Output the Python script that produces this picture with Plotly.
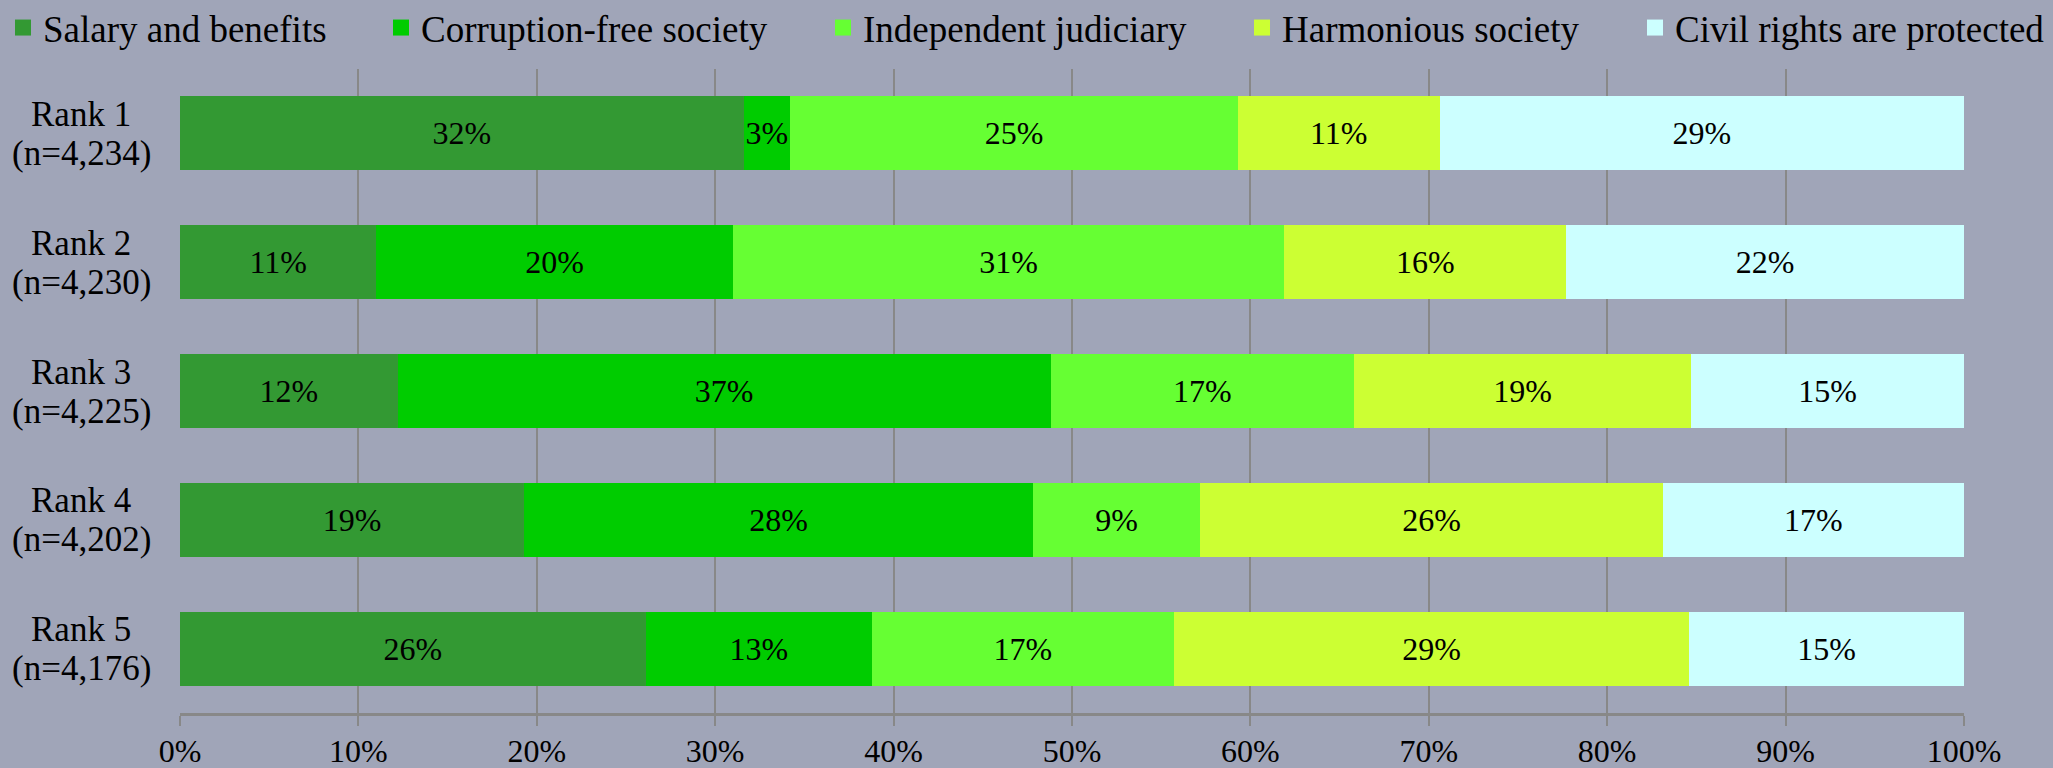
import plotly.graph_objects as go

ranks = ["Rank 1", "Rank 2", "Rank 3", "Rank 4", "Rank 5"]
ns = ["(n=4,234)", "(n=4,230)", "(n=4,225)", "(n=4,202)", "(n=4,176)"]

series_names = ["Salary and benefits", "Corruption-free society", "Independent judiciary",
                "Harmonious society", "Civil rights are protected"]
salary = [31.6, 11.0, 12.2, 19.3, 26.1]
corruption = [2.6, 20.0, 36.6, 28.5, 12.7]
judiciary = [25.1, 30.9, 17.0, 9.4, 16.9]
harmonious = [11.3, 15.8, 18.9, 25.9, 28.9]
civil = [29.4, 22.3, 15.3, 16.9, 15.4]
values = [salary, corruption, judiciary, harmonious, civil]
colors = ["#339933", "#00CC00", "#66FF33", "#CCFF33", "#CCFFFF"]

x_ticks = list(range(0, 101, 10))

FONT = "Liberation Serif, Times New Roman, serif"
W, H = 2053, 768
ML, MR, MT, MB = 180, 89, 69, 55
PW = W - ML - MR

fig = go.Figure()
legend_ids = ["legend", "legend2", "legend3", "legend4", "legend5"]
for name, vals, col, lid in zip(series_names, values, colors, legend_ids):
    fig.add_trace(go.Bar(
        y=ranks, x=vals, orientation="h", name=name,
        marker=dict(color=col, line=dict(width=0)),
        text=[f"{v:.0f}%" for v in vals], textposition="inside",
        insidetextanchor="middle", textangle=0, constraintext="none",
        textfont=dict(family=FONT, size=32, color="black"),
        showlegend=False, hoverinfo="skip",
    ))
    fig.add_trace(go.Scatter(
        x=[None], y=[None], mode="markers", name=name,
        marker=dict(symbol="square", size=19, color=col),
        showlegend=True, legend=lid,
    ))

# legend placement (pixel left edges of each legend box, in the page)
legend_left_px = [3, 381, 823, 1242, 1635]
layout_legends = {}
for lid, lpx in zip(legend_ids, legend_left_px):
    layout_legends[lid] = dict(
        xref="container", yref="container",
        x=lpx / W, y=1 - 28 / H, xanchor="left", yanchor="middle",
        orientation="h", bgcolor="rgba(0,0,0,0)", borderwidth=0,
        font=dict(family=FONT, size=37, color="black"),
        itemsizing="trace",
    )

annotations = []
for r, n in zip(ranks, ns):
    for txt, shift in ((r, 19), (n, -20)):
        annotations.append(dict(
            x=(81 - ML) / PW, xref="paper", y=r, yref="y",
            text=txt, showarrow=False, align="center",
            xanchor="center", yanchor="middle", yshift=shift,
            font=dict(family=FONT, size=35, color="black"),
        ))

fig.update_layout(
    width=W, height=H,
    margin=dict(l=ML, r=MR, t=MT, b=MB, pad=0, autoexpand=False),
    paper_bgcolor="#A0A5B8", plot_bgcolor="#A0A5B8",
    barmode="stack", bargap=0.425,
    font=dict(family=FONT, color="black"),
    xaxis=dict(
        range=[0, 100], tickvals=x_ticks, ticktext=[f"{t}%" for t in x_ticks],
        showgrid=True, gridcolor="#888888", gridwidth=1.5,
        zeroline=False, showline=True, linecolor="#888888", linewidth=2.5,
        ticks="outside", ticklen=10, tickcolor="#888888", tickwidth=1.5,
        ticklabelstandoff=-2,
        tickfont=dict(family=FONT, size=32, color="black"),
        fixedrange=True,
    ),
    yaxis=dict(
        autorange="reversed", showticklabels=False, showgrid=False,
        zeroline=False, showline=False, ticks="", fixedrange=True,
    ),
    annotations=annotations,
    **layout_legends,
)

fig.write_html(
    "out.html",
    config={"displayModeBar": False},
    post_script="document.body.style.margin='0px';document.body.style.overflow='hidden';",
)
